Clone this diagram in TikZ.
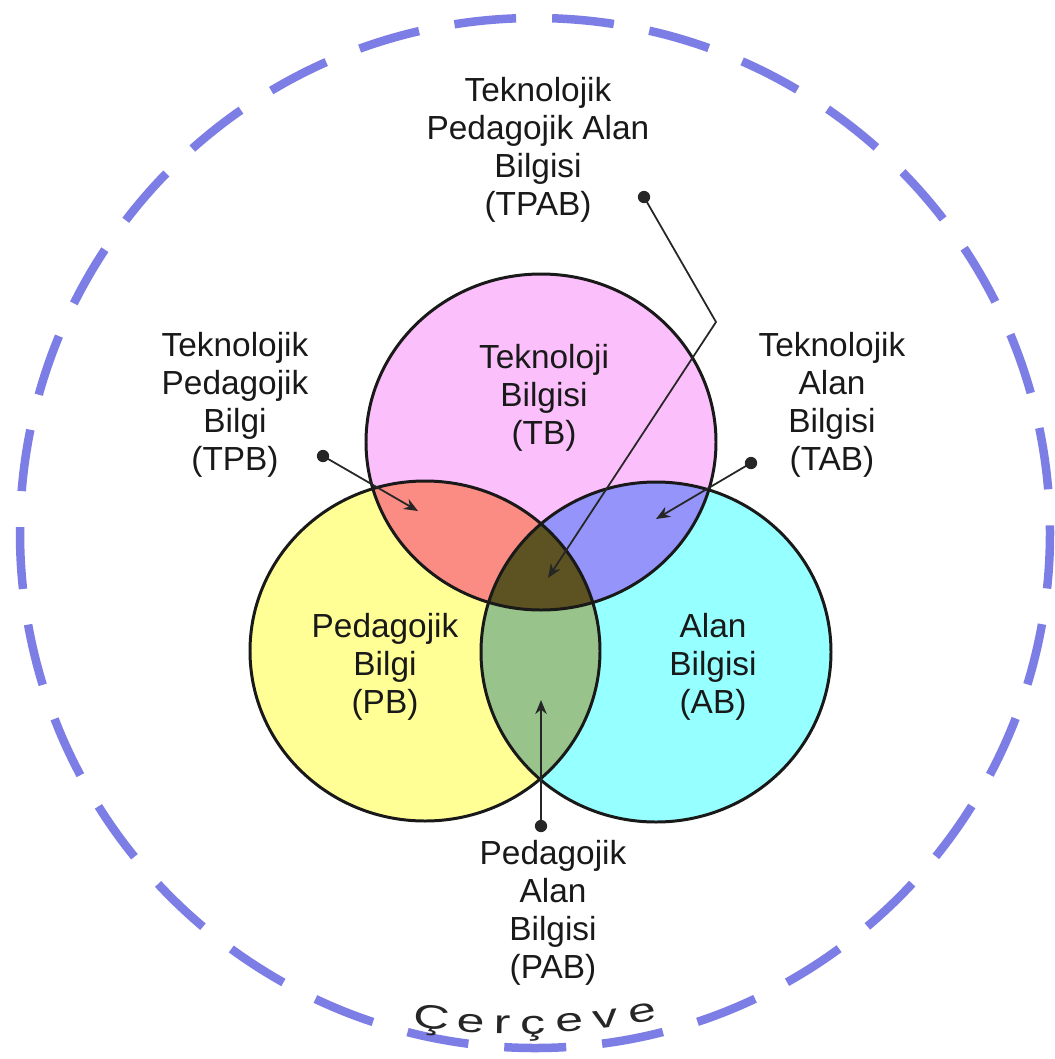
\documentclass[tikz,border=0pt]{standalone}
\usepackage{fontspec}
\setmainfont{Liberation Sans}
\usetikzlibrary{arrows.meta,calc}

\definecolor{tbpink}{RGB}{251,192,251}
\definecolor{pbyellow}{RGB}{255,255,150}
\definecolor{abcyan}{RGB}{150,255,255}
\definecolor{tpbred}{RGB}{250,140,132}
\definecolor{tabblue}{RGB}{148,148,250}
\definecolor{pabgreen}{RGB}{152,196,140}
\definecolor{tpabdark}{RGB}{92,82,34}
\definecolor{frameblue}{RGB}{125,125,230}

\newcommand\circT{(541,442) ellipse [x radius=175,y radius=168]}
\newcommand\circP{(425,651) ellipse [x radius=175,y radius=170]}
\newcommand\circA{(656,652) ellipse [x radius=175,y radius=170]}

\begin{document}
\begin{tikzpicture}[x=0.02cm,y=-0.02cm,
  lbl/.style={align=center,font=\fontsize{19}{21.5}\selectfont,text=black!90},
  ring/.style={line width=1.7pt,draw=black!90},
  pointer/.style={line width=1pt,draw=black!85,-{Stealth[length=8pt,width=6.5pt]}},
  enddot/.style={circle,fill=black!85,inner sep=0pt,minimum size=7pt},
  framering/.style={line width=0.17cm,draw=frameblue,dash pattern=on 1.24cm off 0.721cm,dash phase=0.128cm},
  frametext/.style={font=\fontsize{19}{22}\selectfont,text=black!85,anchor=base,inner sep=0pt}
]
\useasboundingbox (0,0) rectangle (1055,1059);
\fill[white] (0,0) rectangle (1055,1059);

% outer dashed frame
\draw[framering] (535,533) circle [radius=515];

% base fills
\fill[tbpink] \circT;
\fill[pbyellow] \circP;
\fill[abcyan] \circA;
% pairwise overlaps
\begin{scope}\clip \circT; \fill[tpbred] \circP; \end{scope}
\begin{scope}\clip \circT; \fill[tabblue] \circA; \end{scope}
\begin{scope}\clip \circP; \fill[pabgreen] \circA; \end{scope}
\begin{scope}\clip \circT; \clip \circP; \fill[tpabdark] \circA; \end{scope}
% outlines
\draw[ring] \circT;
\draw[ring] \circP;
\draw[ring] \circA;

% labels
\node[lbl] (tpab) at (538,150) {Teknolojik\\Pedagojik Alan\\Bilgisi\\(TPAB)};
\node[lbl] (tpb) at (235,405) {Teknolojik\\Pedagojik\\Bilgi\\(TPB)};
\node[lbl] (tb) at (544,398) {Teknoloji\\Bilgisi\\(TB)};
\node[lbl] (tab) at (832,405) {Teknolojik\\Alan\\Bilgisi\\(TAB)};
\node[lbl] (pb) at (385,667) {Pedagojik\\Bilgi\\(PB)};
\node[lbl] (ab) at (713,667) {Alan\\Bilgisi\\(AB)};
\node[lbl] (pab) at (553,913) {Pedagojik\\Alan\\Bilgisi\\(PAB)};

% pointers
\node[enddot] (tpabDot) at (644,197) {};
\coordinate (tpabBend) at (716,322);
\coordinate (tpabTip) at (548,578);
\draw[pointer] (tpabDot.center) -- (tpabBend) -- (tpabTip);

\node[enddot] (tpbDot) at (323,456) {};
\coordinate (tpbTip) at (418,511);
\draw[pointer] (tpbDot.center) -- (tpbTip);

\node[enddot] (tabDot) at (751,463) {};
\coordinate (tabTip) at (656,519);
\draw[pointer] (tabDot.center) -- (tabTip);

\node[enddot] (pabDot) at (541,826) {};
\coordinate (pabTip) at (541,700);
\draw[pointer] (pabDot.center) -- (pabTip);

% curved frame title
\foreach \ch/\px [count=\i] in {Ç/430,e/470,r/502,ç/533,e/570,v/607,e/644}{
  \pgfmathsetmacro\dd{asin((\px-515)/700)}
  \node[frametext,rotate=\dd] (fr\i) at ($(515,334)+(90-\dd:700)$) {\scalebox{1.5}[1]{\ch}};
}
\end{tikzpicture}
\end{document}
